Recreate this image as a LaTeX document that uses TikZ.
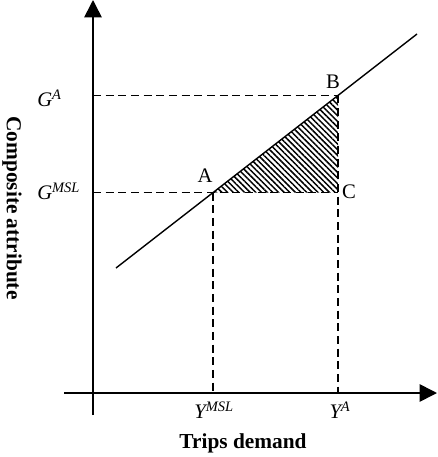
\documentclass[tikz,border=0pt]{standalone}
\usepackage{fontspec}
\setmainfont{Liberation Serif}
\usetikzlibrary{arrows.meta,patterns.meta}

\begin{document}
\begin{tikzpicture}[x=0.75pt, y=-0.75pt,
  axis/.style={line width=1.2pt, -{Triangle[length=13pt, width=13pt]}},
  curve/.style={line width=1.05pt},
  guide/.style={line width=0.9pt, dash pattern=on 6pt off 3.5pt},
  hatch/.style={pattern={Lines[angle=-45, distance=3pt, line width=1.1pt]}},
  lbl/.style={font=\fontsize{15.5}{18}\selectfont, inner sep=0pt},
  ttl/.style={font=\fontsize{16}{19}\selectfont\bfseries, inner sep=0pt}
]
  \useasboundingbox (0,0) rectangle (437,457);

  % axes
  \coordinate (xs) at (64,393);
  \coordinate (xe) at (437,393);
  \coordinate (ys) at (93,415);
  \coordinate (ye) at (93,0);
  \draw[axis] (xs) -- (xe);
  \draw[axis] (ys) -- (ye);

  % points on the line
  \coordinate (l0) at (116,268);
  \coordinate (l1) at (417,34);
  \coordinate (A) at (213,192.6);
  \coordinate (B) at (338,95.4);
  \coordinate (C) at (338,192.6);
  \coordinate (ga) at (93,95.4);
  \coordinate (gm) at (93,192.6);
  \coordinate (ya) at (338,393);
  \coordinate (ym) at (213,393);

  \fill[hatch] (A) -- (B) -- (C) -- cycle;
  \draw[curve] (l0) -- (l1);

  \draw[guide] (ga) -- (B);
  \draw[guide] (gm) -- (C);
  \draw[guide] (A) -- (ym);
  \draw[guide] (B) -- (ya);

  \node[lbl] (la) at (205,176) {A};
  \node[lbl] (lb) at (333,82) {B};
  \node[lbl] (lc) at (349,192) {C};

  \node[lbl, anchor=west] (lga) at (37,98) {\textit{G\textsuperscript{A}}};
  \node[lbl, anchor=west] (lgm) at (37,191) {\textit{G\textsuperscript{MSL}}};
  \node[lbl] (lym) at (214,410) {\textit{Y\textsuperscript{MSL}}};
  \node[lbl] (lya) at (340,410) {\textit{Y\textsuperscript{A}}};

  \node[ttl] (tx) at (243,443) {Trips demand};
  \node[ttl, rotate=-90] (ty) at (12,208) {Composite attribute};
\end{tikzpicture}
\end{document}
